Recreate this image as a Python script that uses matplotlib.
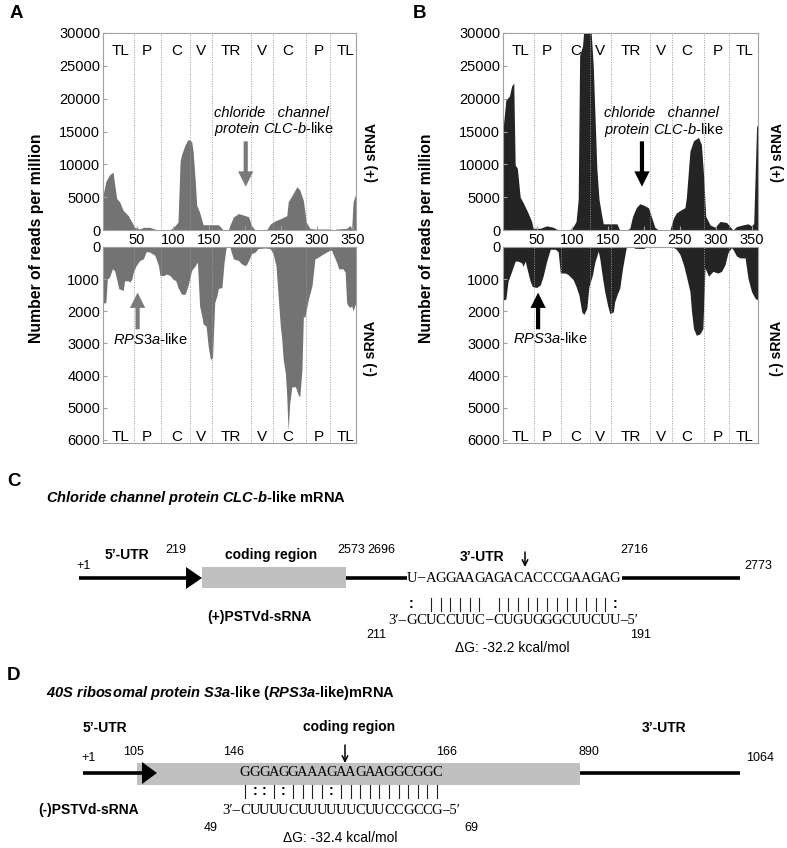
import matplotlib
matplotlib.use("Agg")
import matplotlib.pyplot as plt
from matplotlib import font_manager
from matplotlib.patches import Polygon, Rectangle

plt.rcParams['font.family'] = ['Liberation Sans', 'DejaVu Sans']
plt.rcParams['mathtext.fontset'] = 'custom'
plt.rcParams['mathtext.rm'] = 'Liberation Sans'
plt.rcParams['mathtext.it'] = 'Liberation Sans:italic'
plt.rcParams['mathtext.bf'] = 'Liberation Sans:bold'
plt.rcParams['mathtext.bfit'] = 'Liberation Sans:italic:bold'

names = {f.name for f in font_manager.fontManager.ttflist}
NARROW = 'Liberation Sans Narrow' if 'Liberation Sans Narrow' in names else 'Liberation Sans'
NUM_SIZE = 9.5 if NARROW == 'Liberation Sans Narrow' else 9

# ---- sRNA profiles along PSTVd (nt position, reads per million) ----
a_plus_x = [1, 3, 7, 12, 17, 18, 22, 26, 31, 38, 43, 47, 54, 59, 68, 77, 84, 91, 98, 103, 107, 110,
            112, 117, 121, 126, 128, 131, 133, 137, 142, 156, 163, 170, 177, 179, 184, 191, 200,
            205, 209, 214, 230, 235, 242, 251, 258, 260, 267, 272, 276, 281, 285, 290, 297, 318,
            323, 327, 341, 346, 348, 350, 353, 355]
a_plus_y = [5000, 5300, 7400, 8400, 8800, 7900, 4800, 4300, 3000, 2200, 1200, 400, 150, 400, 400, 50,
            0, 0, 150, 670, 1200, 10500, 11500, 13000, 13800, 13500, 12000, 7400, 3800, 2700, 800,
            800, 800, 0, 0, 700, 2000, 2500, 2200, 2000, 700, 0, 0, 900, 1400, 1800, 2200, 4300,
            5600, 6600, 6100, 4500, 1200, 250, 150, 150, 0, 150, 250, 700, 150, 4300, 5300, 5500]

a_minus_x = [1, 3, 7, 9, 12, 16, 19, 22, 25, 29, 31, 33, 38, 40, 43, 45, 49, 54, 59, 63, 68, 75, 80,
             82, 87, 91, 96, 100, 104, 107, 112, 117, 121, 126, 131, 134, 137, 140, 142, 146, 149,
             152, 155, 158, 161, 163, 168, 171, 174, 179, 181, 184, 191, 195, 200, 202, 205, 209,
             214, 218, 228, 235, 239, 243, 246, 249, 251, 253, 256, 258, 259, 260, 262, 265, 270,
             274, 276, 279, 281, 283, 288, 293, 297, 302, 309, 313, 318, 320, 323, 327, 330, 336,
             339, 341, 343, 346, 348, 350, 353, 355]
a_minus_y = [1750, 1750, 1730, 1000, 940, 680, 730, 1000, 1300, 1330, 1360, 1050, 1050, 1100, 1000,
             790, 580, 420, 370, 140, 160, 260, 580, 890, 890, 840, 890, 1000, 1050, 1260, 1470,
             1470, 1200, 730, 580, 470, 1830, 2150, 2400, 2460, 3100, 3500, 3450, 1730, 1520, 1290,
             1260, 470, 0, 0, 160, 370, 420, 520, 580, 550, 420, 210, 160, 50, 30, 50, 210, 580,
             1520, 2460, 2880, 3500, 3930, 4660, 5290, 5700, 4870, 4350, 4350, 4610, 4660, 3820,
             2150, 2200, 1620, 1200, 370, 310, 210, 160, 100, 100, 260, 470, 680, 680, 790, 1730,
             1830, 1880, 1830, 1990, 1780, 1800]

b_plus_x = [1, 3.5, 7, 12, 15, 18, 20, 23, 27, 31, 38, 43, 45, 55, 64, 73, 80, 96, 101, 105, 108,
            110, 114, 117, 125, 129, 134, 137, 141, 143, 162, 166, 176, 180, 184, 189, 194, 199,
            206, 210, 215, 220, 236, 241, 245, 252, 257, 259, 264, 269, 276, 280, 283, 286, 292,
            299, 306, 315, 320, 324, 329, 338, 345, 350, 353, 357, 359]
b_plus_y = [15500, 15900, 19800, 20400, 21900, 22400, 9900, 9400, 5000, 4200, 2600, 1300, 260, 260,
            630, 420, 0, 0, 520, 1300, 4700, 26600, 28000, 32000, 32000, 25000, 9400, 4700, 2100,
            940, 940, 0, 0, 260, 2100, 3400, 4000, 3800, 3400, 2100, 420, 0, 0, 1800, 2600, 3100,
            3400, 5000, 12000, 13600, 14100, 13000, 8400, 2100, 780, 420, 1300, 1150, 520, 0, 520,
            780, 940, 630, 1000, 15700, 16200]

b_minus_x = [1, 3.5, 7, 10, 15, 20, 24, 29, 31, 34, 38, 41, 44, 50, 55, 59, 64, 69, 76, 80, 83, 90,
             94, 99, 101, 105, 109, 113, 116, 120, 123, 128, 131, 136, 138, 142, 145, 149, 152, 157,
             159, 163, 166, 170, 175, 185, 187, 199, 203, 240, 245, 250, 255, 259, 264, 266, 269,
             273, 278, 282, 285, 290, 296, 303, 308, 313, 317, 322, 324, 329, 334, 341, 345, 350,
             355, 359]
b_minus_y = [1650, 1650, 1620, 1070, 760, 440, 440, 490, 600, 440, 810, 1070, 1230, 1260, 1180, 910,
             440, 70, 70, 150, 810, 810, 860, 970, 1020, 1230, 1490, 2020, 2100, 1910, 1230, 860,
             490, 130, 340, 970, 1390, 1810, 2070, 2020, 1700, 1440, 1280, 650, 20, 0, 40, 50, 0,
             0, 70, 230, 550, 910, 1390, 1960, 2540, 2750, 2700, 2540, 650, 910, 760, 810, 760,
             550, 180, 20, 70, 280, 340, 340, 970, 1390, 1600, 1650]

# PSTVd structural domains
domain_bounds = [46, 84, 124, 154, 208, 239, 284, 318]
domain_names = ['TL', 'P', 'C', 'V', 'TR', 'V', 'C', 'P', 'TL']
domain_pos = [27, 64, 105, 139, 181, 223, 259, 303, 340]
xtick_vals = [50, 100, 150, 200, 250, 300, 350]
plus_ticks = [0, 5000, 10000, 15000, 20000, 25000, 30000]
minus_ticks = [0, 1000, 2000, 3000, 4000, 5000, 6000]

# target sites
clc_site = {'A': 201, 'B': 197}
rps_site = {'A': 51, 'B': 52}

# ---- duplex data for C and D ----
c_positions = ['+1', '219', '2573', '2696', '2716', '2773']
c_srna_ends = ['211', '191']
c_mrna = "U–AGGAAGAGACACCCGAAGAG"
c_pairs = ": |||||| ||||||||||||:"
c_srna = "GCUCCUUC–CUGUGGGCUUCUU"
c_dg = "ΔG: -32.2 kcal/mol"

d_positions = ['+1', '105', '146', '166', '890', '1064']
d_srna_ends = ['49', '69']
d_mrna = "GGGAGGAAAGAAGAAGGCGGC"
d_pairs = "|::|:||||:|||||||||||"
d_srna = "CUUUUCUUUUUUCUUCCGCCG"
d_dg = "ΔG: -32.4 kcal/mol"

W, H = 787, 848
fig = plt.figure(figsize=(W / 100, H / 100), dpi=100)


def fx(px):
    return px / W


def fy(py):
    return 1 - py / H


def box(left, top, right, bottom):
    return [fx(left), fy(bottom), fx(right) - fx(left), (bottom - top) / H]


# schematic canvas in pixel coordinates
dax = fig.add_axes([0, 0, 1, 1])
dax.set_xlim(0, W)
dax.set_ylim(H, 0)
dax.axis('off')

SPINE = '#a0a0a0'


def style(ax):
    for s in ax.spines.values():
        s.set_color(SPINE)
        s.set_linewidth(0.8)
    ax.tick_params(direction='in', length=3, color=SPINE, labelsize=10.5, pad=2)


def panel(left, right, xlim, xp, yp, xm, ym, fill, arrow_col, key, clc_text_x,
          clc_text_y, rps_text_x, rps_text_y):
    top = fig.add_axes(box(left, 33, right, 230))
    bot = fig.add_axes(box(left, 247, right, 443))
    top.fill_between(xp, 0, yp, color=fill, lw=0)
    bot.fill_between(xm, 0, ym, color=fill, lw=0)
    top.set_ylim(0, 30000)
    bot.set_ylim(6100, 0)
    for ax in (top, bot):
        ax.set_xlim(*xlim)
        style(ax)
        for b in domain_bounds:
            ax.axvline(b, color='#9a9a9a', lw=0.7, ls=(0, (1, 1.5)), zorder=3)
    top.set_yticks(plus_ticks)
    top.set_xticks(xtick_vals)
    bot.set_yticks(minus_ticks)
    bot.set_xticks([])
    for name, p in zip(domain_names, domain_pos):
        top.text(p, 27300, name, ha='center', va='center', fontsize=11)
        bot.text(p, 5900, name, ha='center', va='center', fontsize=11)

    aprops = dict(arrowstyle='simple,head_length=0.55,head_width=0.55,tail_width=0.15',
                  color=arrow_col, lw=0, shrinkA=0, shrinkB=0, mutation_scale=20)
    x = clc_site[key]
    top.annotate('', xy=(x, 6600), xytext=(x, 13500), arrowprops=aprops)
    top.text(clc_text_x, clc_text_y[0], 'chloride   channel', style='italic', fontsize=10.5,
             ha='left', va='center')
    top.text(clc_text_x, clc_text_y[1], r'$\mathit{protein\ CLC}$-$\mathit{b}$-like',
             fontsize=10.5, ha='left', va='center')
    x = rps_site[key]
    bot.annotate('', xy=(x, 1420), xytext=(x, 2560), arrowprops=aprops)
    bot.text(rps_text_x, rps_text_y, r'$\mathit{RPS3a}$-like', fontsize=10.5,
             ha='left', va='center')
    return top, bot


panel(103, 356, (3, 354), a_plus_x, a_plus_y, a_minus_x, a_minus_y, '#737373', '#7a7a7a',
      'A', 157, (17850, 15400), 17, 2880)
panel(503, 758, (3, 359), b_plus_x, b_plus_y, b_minus_x, b_minus_y, '#242424', 'black',
      'B', 144, (17750, 15200), 16.5, 2860)

# side labels
for cx in (37, 427):
    fig.text(fx(cx), fy(238), 'Number of reads per million', rotation=90, fontweight='bold',
             fontsize=11.3, ha='center', va='center')
for cx in (372, 778):
    fig.text(fx(cx), fy(152), '(+) sRNA', rotation=90, fontweight='bold', fontsize=10,
             ha='center', va='center')
    fig.text(fx(cx - 1), fy(348), '(-) sRNA', rotation=90, fontweight='bold', fontsize=10,
             ha='center', va='center')

for letter, (px, py) in zip('ABCD', [(10, 13), (413, 13), (7, 481), (7, 676)]):
    dax.text(px, py, letter, fontweight='bold', fontsize=13.5, ha='left', va='center')

# ---- C: chloride channel mRNA ----
dax.text(46, 498, r'$\mathbfit{Chloride\ channel\ protein\ CLC}$-$\mathbfit{b}$-like mRNA',
         fontweight='bold', fontsize=10.5, ha='left', va='center')
LW = 2.6
dax.plot([79, 190], [578, 578], color='k', lw=LW, solid_capstyle='butt')
dax.add_patch(Rectangle((202, 567), 144, 21, color='#c0c0c0', lw=0))
dax.add_patch(Polygon([(186, 567), (186, 589), (202, 578)], closed=True, color='k', lw=0))
dax.plot([346, 407], [578, 578], color='k', lw=LW, solid_capstyle='butt')
dax.plot([622, 740], [578, 578], color='k', lw=LW, solid_capstyle='butt')

num_kw = dict(fontsize=NUM_SIZE, family=NARROW, ha='center', va='center')
for lab, (px, py) in zip(c_positions, [(84, 566), (176, 550), (351, 550), (381, 550),
                                       (634, 550), (758, 566)]):
    dax.text(px, py, lab, **num_kw)
for lab, (px, py) in zip(c_srna_ends, [(376, 635), (641, 635)]):
    dax.text(px, py, lab, **num_kw)
bold_kw = dict(fontsize=10, fontweight='bold', ha='left', va='center')
dax.text(105, 555, '5’-UTR', **bold_kw)
dax.text(225, 555, 'coding region', **bold_kw)
dax.text(460, 557, '3’-UTR', **bold_kw)
dax.text(207, 617, '(+)PSTVd-sRNA', **bold_kw)
dax.text(455, 648, c_dg, fontsize=10, ha='left', va='center')
dax.annotate('', xy=(525, 567), xytext=(525, 552),
             arrowprops=dict(arrowstyle='->', color='k', lw=1.1, shrinkA=0, shrinkB=0))


def duplex(x0, dx, ytop, ypair, ybot, top_seq, pairs, bot_seq):
    seq_kw = dict(family='Liberation Serif', fontsize=10.5, ha='center', va='center')
    for i, (a, p, b) in enumerate(zip(top_seq, pairs, bot_seq)):
        x = x0 + i * dx
        dax.text(x, ytop, a, **seq_kw)
        dax.text(x, ybot, b, **seq_kw)
        if p == '|':
            dax.plot([x, x], [ypair - 6.5, ypair + 6.5], color='#222222', lw=0.8)
        elif p == ':':
            dax.text(x, ypair, ':', fontsize=10, fontweight='bold', ha='center', va='center')
    end = x0 + (len(bot_seq) - 1) * dx
    dax.text(x0 - 5, ybot, '3′–', family='Liberation Serif', fontsize=10.5,
             ha='right', va='center')
    dax.text(end + 5, ybot, '–5′', family='Liberation Serif', fontsize=10.5,
             ha='left', va='center')


duplex(411.5, 9.69, 578, 604, 620, c_mrna, c_pairs, c_srna)

# ---- D: RPS3a-like mRNA ----
dax.text(46, 693, r'$\mathbfit{40S\ ribosomal\ protein\ S3a}$-like ($\mathbfit{RPS3a}$-like)mRNA',
         fontweight='bold', fontsize=10.5, ha='left', va='center')
dax.plot([83, 146], [773, 773], color='k', lw=LW, solid_capstyle='butt')
dax.add_patch(Rectangle((137, 763), 443, 22, color='#c0c0c0', lw=0))
dax.add_patch(Polygon([(142, 762), (142, 784), (157, 773)], closed=True, color='k', lw=0))
dax.plot([580, 740], [773, 773], color='k', lw=LW, solid_capstyle='butt')
for lab, (px, py) in zip(d_positions, [(89, 758), (133, 752), (234, 752), (447, 752),
                                       (589, 752), (760, 758)]):
    dax.text(px, py, lab, **num_kw)
for lab, (px, py) in zip(d_srna_ends, [(211, 828), (471, 828)]):
    dax.text(px, py, lab, **num_kw)
dax.text(83, 728, '5’-UTR', **bold_kw)
dax.text(303, 727, 'coding region', **bold_kw)
dax.text(642, 728, '3’-UTR', **bold_kw)
dax.text(38, 810, '(-)PSTVd-sRNA', **bold_kw)
dax.text(283, 838, d_dg, fontsize=10, ha='left', va='center')
dax.annotate('', xy=(345, 763), xytext=(345, 745),
             arrowprops=dict(arrowstyle='->', color='k', lw=1.1, shrinkA=0, shrinkB=0))
duplex(245, 9.6, 773, 791, 810, d_mrna, d_pairs, d_srna)

fig.savefig('out.png', dpi=100)
